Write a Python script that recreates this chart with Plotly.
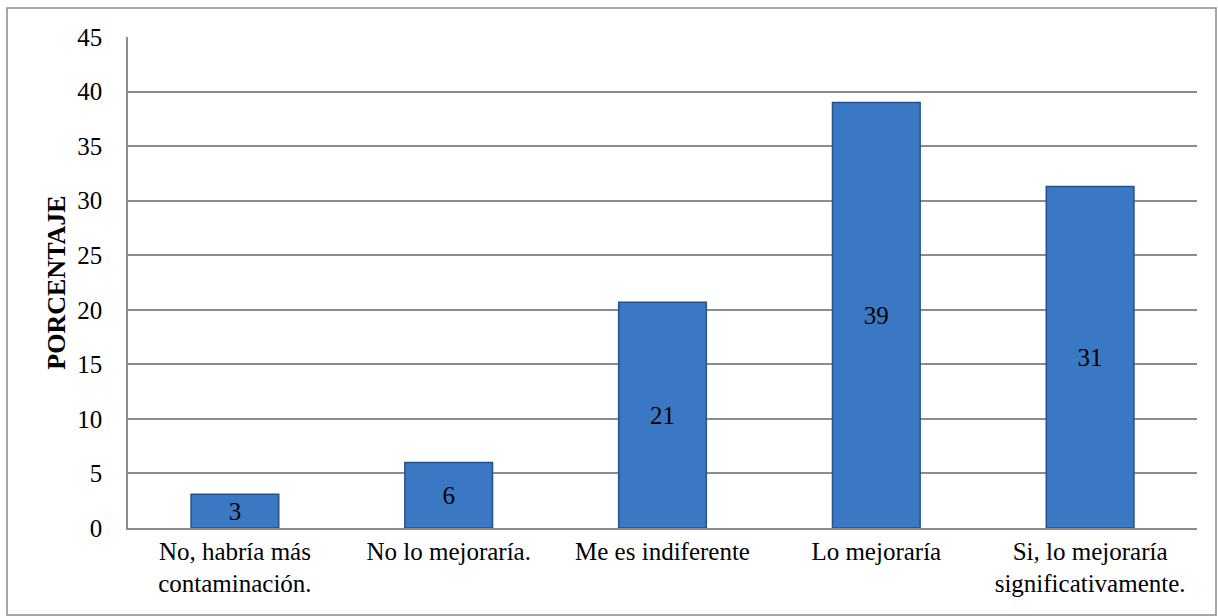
import plotly.graph_objects as go

categories = ["No, habría más<br>contaminación.", "No lo mejoraría.", "Me es indiferente",
              "Lo mejoraría", "Si, lo mejoraría<br>significativamente."]
percent = [3.1, 6.0, 20.7, 39.0, 31.3]
y_ticks = [0, 5, 10, 15, 20, 25, 30, 35, 40, 45]

W, H = 1218, 616
L, R, T, B = 128, 21, 37, 88
pw, ph = W - L - R, H - T - B

font = "Liberation Serif"

fig = go.Figure()
fig.add_trace(go.Bar(
    x=categories,
    y=percent,
    marker=dict(color="#3a78c4", line=dict(color="#23518c", width=1.5)),
    texttemplate="%{y:.0f}",
    textposition="inside",
    insidetextanchor="middle",
    constraintext="none",
    textfont=dict(family=font, size=25, color="black"),
    cliponaxis=False,
))

# outer chart border
fig.add_shape(type="rect", xref="paper", yref="paper",
              x0=(7 - L) / pw, x1=(1216 - L) / pw,
              y0=-(615 - T - ph) / ph, y1=1 + (T - 8) / ph,
              line=dict(color="#8a8a8a", width=1.5), fillcolor="rgba(0,0,0,0)", layer="below")

fig.update_layout(
    width=W, height=H,
    margin=dict(l=L, r=R, t=T, b=B),
    paper_bgcolor="white", plot_bgcolor="white",
    bargap=0.59,
    showlegend=False,
    font=dict(family=font, size=25, color="black"),
)
fig.update_yaxes(
    range=[0, 45], tickvals=y_ticks,
    showgrid=True, gridcolor="#8c8c8c", gridwidth=1.5,
    showline=True, linecolor="#8c8c8c", linewidth=1.5,
    zeroline=False, ticks="", ticklabelstandoff=19,
    tickfont=dict(family=font, size=25, color="black"),
    title=dict(text="<b>PORCENTAJE</b>", font=dict(family=font, size=26, color="black"), standoff=4),
)
fig.update_xaxes(
    showline=True, linecolor="#8c8c8c", linewidth=1.5,
    ticks="", tickfont=dict(family=font, size=25, color="black"),
    tickangle=0,
)

fig.write_html("out.html", config={"displayModeBar": False},
               post_script="document.body.style.margin='0';")
